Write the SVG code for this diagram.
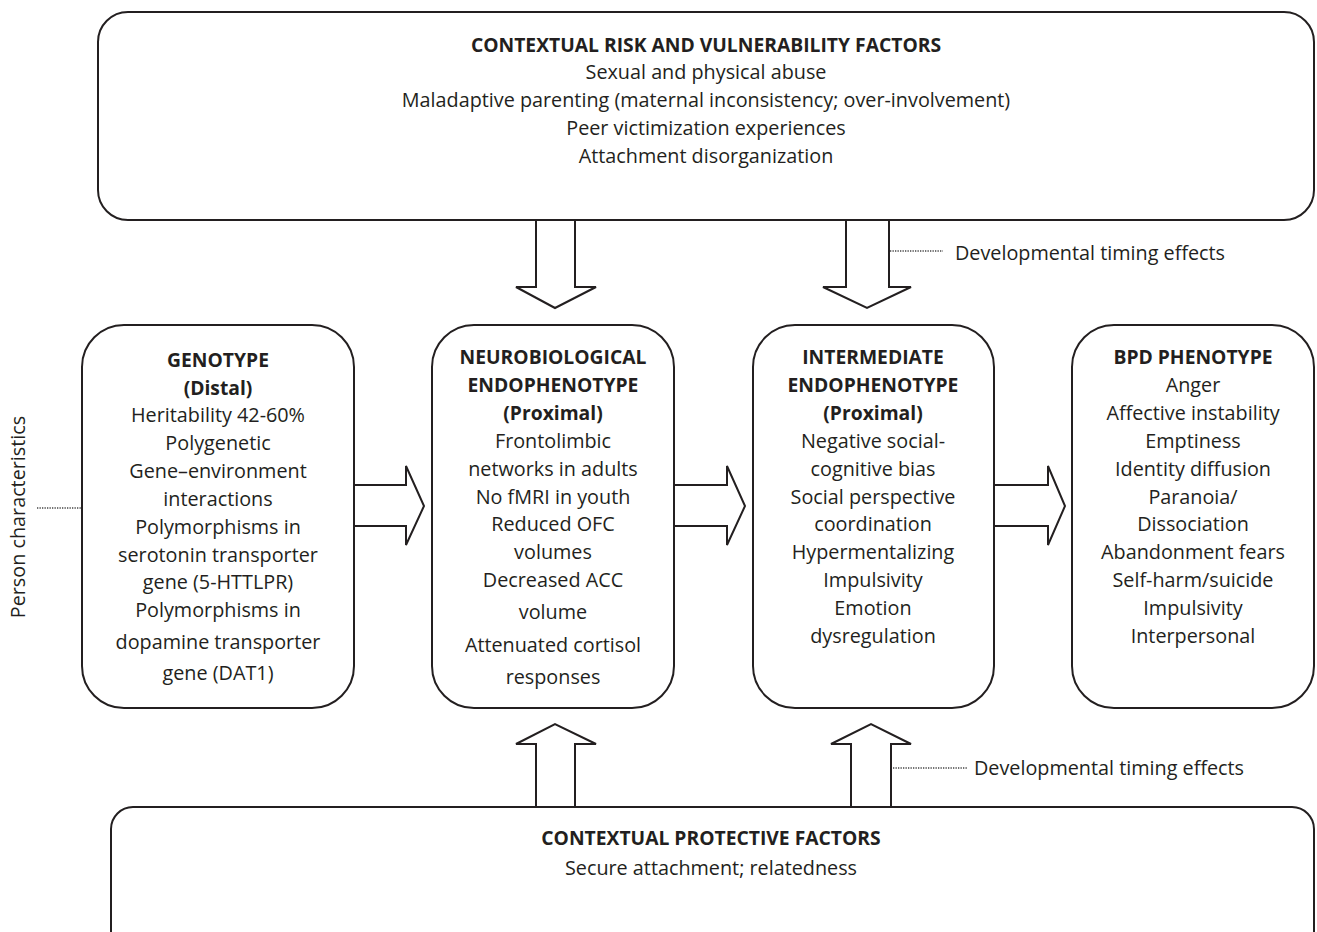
<svg xmlns="http://www.w3.org/2000/svg" width="1317" height="932" viewBox="0 0 1317 932">
<style>
.box{fill:#fff;stroke:#231f20;stroke-width:2}
.arr{fill:#fff;stroke:#231f20;stroke-width:2;stroke-linejoin:miter}
.dot{stroke:#444;stroke-width:1.3;stroke-dasharray:1.3 1.2;fill:none}
text{font-family:"Open Sans","Liberation Sans",sans-serif;font-size:19.8px;fill:#231f20}
.c{text-anchor:middle}
.b{font-weight:bold;font-size:19.3px}
</style>
<rect width="1317" height="932" fill="#fff"/>
<g id="risk">
<rect class="box" x="98" y="12" width="1216" height="208" rx="30" ry="30"/>
<text class="c b" x="706" y="52">CONTEXTUAL RISK AND VULNERABILITY FACTORS</text>
<text class="c" x="706" y="79">Sexual and physical abuse</text>
<text class="c" x="706" y="107">Maladaptive parenting (maternal inconsistency; over-involvement)</text>
<text class="c" x="706" y="135">Peer victimization experiences</text>
<text class="c" x="706" y="163">Attachment disorganization</text>
</g>
<g id="protective">
<rect class="box" x="111" y="807" width="1203" height="160" rx="22" ry="22"/>
<text class="c b" x="711" y="845">CONTEXTUAL PROTECTIVE FACTORS</text>
<text class="c" x="711" y="875">Secure attachment; relatedness</text>
</g>
<g id="genotype">
<rect class="box" x="82" y="325" width="272" height="383" rx="42" ry="42"/>
<text class="c b" x="218" y="367">GENOTYPE</text>
<text class="c b" x="218" y="395">(Distal)</text>
<text class="c" x="218" y="422">Heritability 42-60%</text>
<text class="c" x="218" y="450">Polygenetic</text>
<text class="c" x="218" y="478">Gene–environment</text>
<text class="c" x="218" y="506">interactions</text>
<text class="c" x="218" y="534">Polymorphisms in</text>
<text class="c" x="218" y="562">serotonin transporter</text>
<text class="c" x="218" y="589">gene (5-HTTLPR)</text>
<text class="c" x="218" y="617">Polymorphisms in</text>
<text class="c" x="218" y="649">dopamine transporter</text>
<text class="c" x="218" y="680">gene (DAT1)</text>
</g>
<g id="neuro">
<rect class="box" x="432" y="325" width="242" height="383" rx="42" ry="42"/>
<text class="c b" x="553" y="364">NEUROBIOLOGICAL</text>
<text class="c b" x="553" y="392">ENDOPHENOTYPE</text>
<text class="c b" x="553" y="420">(Proximal)</text>
<text class="c" x="553" y="448">Frontolimbic</text>
<text class="c" x="553" y="476">networks in adults</text>
<text class="c" x="553" y="504">No fMRI in youth</text>
<text class="c" x="553" y="531">Reduced OFC</text>
<text class="c" x="553" y="559">volumes</text>
<text class="c" x="553" y="587">Decreased ACC</text>
<text class="c" x="553" y="619">volume</text>
<text class="c" x="553" y="652">Attenuated cortisol</text>
<text class="c" x="553" y="684">responses</text>
</g>
<g id="intermediate">
<rect class="box" x="753" y="325" width="241" height="383" rx="42" ry="42"/>
<text class="c b" x="873" y="364">INTERMEDIATE</text>
<text class="c b" x="873" y="392">ENDOPHENOTYPE</text>
<text class="c b" x="873" y="420">(Proximal)</text>
<text class="c" x="873" y="448">Negative social-</text>
<text class="c" x="873" y="476">cognitive bias</text>
<text class="c" x="873" y="504">Social perspective</text>
<text class="c" x="873" y="531">coordination</text>
<text class="c" x="873" y="559">Hypermentalizing</text>
<text class="c" x="873" y="587">Impulsivity</text>
<text class="c" x="873" y="615">Emotion</text>
<text class="c" x="873" y="643">dysregulation</text>
</g>
<g id="phenotype">
<rect class="box" x="1072" y="325" width="242" height="383" rx="42" ry="42"/>
<text class="c b" x="1193" y="364">BPD PHENOTYPE</text>
<text class="c" x="1193" y="392">Anger</text>
<text class="c" x="1193" y="420">Affective instability</text>
<text class="c" x="1193" y="448">Emptiness</text>
<text class="c" x="1193" y="476">Identity diffusion</text>
<text class="c" x="1193" y="504">Paranoia/</text>
<text class="c" x="1193" y="531">Dissociation</text>
<text class="c" x="1193" y="559">Abandonment fears</text>
<text class="c" x="1193" y="587">Self-harm/suicide</text>
<text class="c" x="1193" y="615">Impulsivity</text>
<text class="c" x="1193" y="643">Interpersonal</text>
</g>
<g id="person">
<text class="c" transform="translate(25,517) rotate(-90)">Person characteristics</text>
</g>
<g id="connectors">
<polygon class="arr" points="536,220 575,220 575,287 596,287 555,308 516,287 536,287"/>
<polygon class="arr" points="846,220 889,220 889,287 911,287 867,308 823,287 846,287"/>
<polygon class="arr" points="354,485 406,485 406,466 424,506 406,545 406,526 354,526"/>
<polygon class="arr" points="674,485 727,485 727,466 745,506 727,545 727,526 674,526"/>
<polygon class="arr" points="994,485 1048,485 1048,466 1065,506 1048,545 1048,526 994,526"/>
<polygon class="arr" points="536,807 536,744 516,744 555,724 596,744 575,744 575,807"/>
<polygon class="arr" points="851,807 851,744 831,744 871,724 911,744 891,744 891,807"/>
<line class="dot" x1="890" y1="251" x2="943" y2="251"/>
<line class="dot" x1="893" y1="768" x2="967" y2="768"/>
<line class="dot" x1="37" y1="508" x2="82" y2="508"/>
<text x="955" y="260">Developmental timing effects</text>
<text x="974" y="775">Developmental timing effects</text>
</g>
</svg>
